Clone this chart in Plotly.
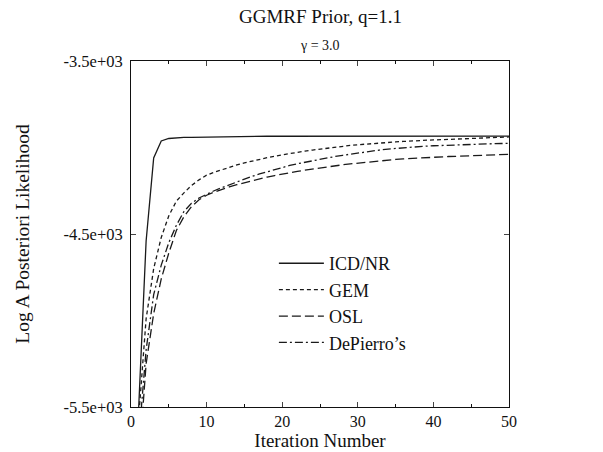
import plotly.graph_objects as go

iterations = list(range(1, 51))

icd_nr = [-5520, -4540, -4060, -3962, -3948, -3944, -3942, -3941, -3940, -3939,
          -3938, -3938, -3937, -3937, -3936, -3936, -3935, -3935, -3935, -3935,
          -3934, -3934, -3934, -3934, -3934, -3934, -3934, -3934, -3934, -3934,
          -3934, -3934, -3934, -3934, -3934, -3934, -3934, -3934, -3934, -3934,
          -3934, -3934, -3934, -3934, -3934, -3934, -3934, -3934, -3934, -3934]

gem = [-5570, -4990, -4700, -4520, -4395, -4310, -4262, -4220, -4187, -4160,
       -4143, -4128, -4114, -4101, -4089, -4078, -4068, -4059, -4050, -4042,
       -4035, -4028, -4021, -4015, -4009, -4003, -3998, -3993, -3988, -3984,
       -3980, -3977, -3974, -3971, -3968, -3965, -3962, -3960, -3958, -3956,
       -3955, -3953, -3952, -3951, -3949, -3947, -3945, -3943, -3941, -3939]

osl = [-5850, -5250, -4960, -4760, -4610, -4480, -4400, -4342, -4302, -4276,
       -4258, -4242, -4228, -4215, -4203, -4192, -4181, -4171, -4162, -4153,
       -4145, -4138, -4131, -4124, -4118, -4112, -4106, -4100, -4095, -4090,
       -4085, -4081, -4077, -4073, -4069, -4066, -4063, -4060, -4058, -4056,
       -4054, -4052, -4051, -4049, -4048, -4047, -4045, -4043, -4041, -4039]

depierro = [-5700, -5170, -4850, -4680, -4550, -4450, -4370, -4322, -4292, -4270,
            -4250, -4232, -4215, -4198, -4182, -4167, -4153, -4140, -4127, -4115,
            -4104, -4094, -4085, -4076, -4068, -4060, -4052, -4045, -4038, -4031,
            -4025, -4019, -4014, -4009, -4005, -4001, -3998, -3995, -3992, -3990,
            -3988, -3986, -3985, -3983, -3982, -3981, -3980, -3978, -3977, -3976]

series_names = ["ICD/NR", "GEM", "OSL", "DePierro\u2019s"]
series_values = [icd_nr, gem, osl, depierro]
series_dash = ["solid", "4px,3px", "9px,4px", "8px,3px,2px,3px"]

y_tick_vals = [-3500, -4500, -5500]
y_tick_text = ["-3.5e+03", "-4.5e+03", "-5.5e+03"]
x_tick_vals = [0, 10, 20, 30, 40, 50]

font_family = "Liberation Serif, Times New Roman, serif"

ML, MR, MT, MB = 131, 94, 61, 45
W, H = 603, 452
plot_h = H - MT - MB

fig = go.Figure()
for name, vals, dash in zip(series_names, series_values, series_dash):
    fig.add_trace(go.Scatter(
        x=iterations, y=vals, mode="lines", name=name,
        line=dict(color="#1a1a1a", width=1.3, dash=dash),
    ))

fig.update_layout(
    width=W, height=H,
    margin=dict(l=ML, r=MR, t=MT, b=MB, autoexpand=False),
    paper_bgcolor="white", plot_bgcolor="white",
    font=dict(family=font_family, color="#111", size=14),
    showlegend=True,
    legend=dict(
        x=0.378, y=0.468, xanchor="left", yanchor="top",
        bgcolor="rgba(0,0,0,0)", borderwidth=0,
        font=dict(family=font_family, size=18, color="#111"),
        itemwidth=45,
    ),
    annotations=[
        dict(text="GGMRF Prior, q=1.1", x=0.5, y=1 + (MT - 16) / plot_h,
             xref="paper", yref="paper", yanchor="middle",
             showarrow=False, font=dict(family=font_family, size=19, color="#111")),
        dict(text="\u03b3 = 3.0", x=0.5, y=1 + (MT - 45) / plot_h,
             xref="paper", yref="paper", yanchor="middle",
             showarrow=False, font=dict(family=font_family, size=14, color="#111")),
    ],
)

fig.update_xaxes(
    range=[0, 50], tickvals=x_tick_vals, ticks="inside", ticklen=5,
    showline=True, linecolor="#111", linewidth=1, mirror="ticks",
    showgrid=False, zeroline=False, automargin=False,
    tickfont=dict(family=font_family, size=16, color="#111"),
    minor=dict(dtick=5, tick0=0, ticks="inside", ticklen=3, tickcolor="#111"),
    title=dict(text="Iteration Number", font=dict(family=font_family, size=19, color="#111"), standoff=4),
)
fig.update_yaxes(
    range=[-5500, -3500], tickvals=y_tick_vals, ticktext=y_tick_text,
    ticks="inside", ticklen=5, ticklabelstandoff=4,
    showline=True, linecolor="#111", linewidth=1, mirror="ticks",
    showgrid=False, zeroline=False, automargin=False,
    tickfont=dict(family=font_family, size=16.5, color="#111"),
    title=dict(text="Log A Posteriori Likelihood", font=dict(family=font_family, size=19.5, color="#111"), standoff=28),
)

fig.write_html("out.html", config={"displayModeBar": False},
               post_script="document.body.style.margin='0';")
